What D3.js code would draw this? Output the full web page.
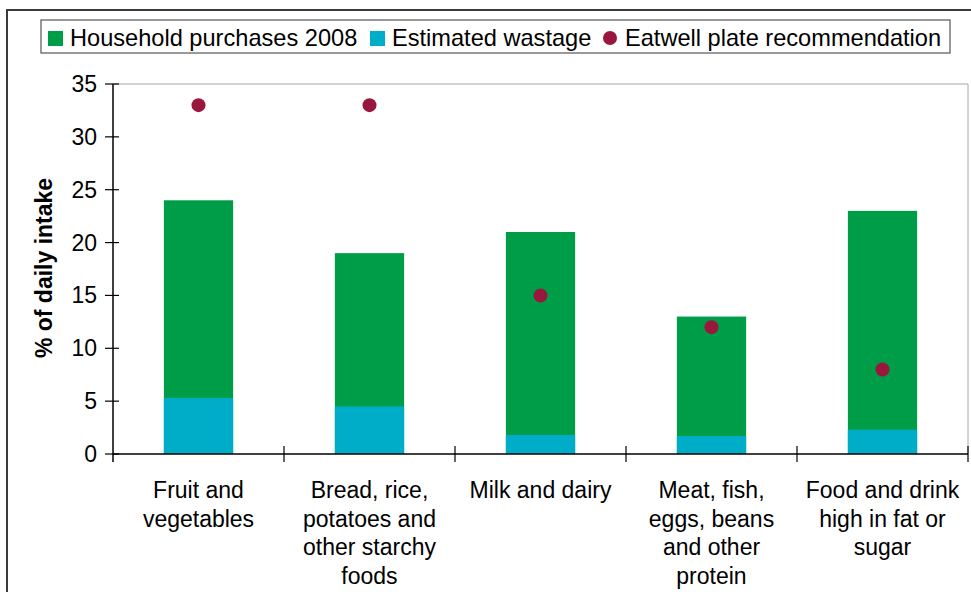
<!DOCTYPE html>
<html>
<head>
<meta charset="utf-8">
<script src="https://cdn.jsdelivr.net/npm/d3@7"></script>
<style>
  html, body { margin: 0; padding: 0; background: #fff; }
  svg { display: block; font-family: "Liberation Sans", Arial, sans-serif; }
</style>
</head>
<body>
<svg id="chart" width="971" height="592"></svg>
<script>
// food groups on the x axis, each label pre-split into lines as in the original
const categories = ['Fruit and vegetables', 'Bread, rice, potatoes and other starchy foods',
    'Milk and dairy', 'Meat, fish, eggs, beans and other protein', 'Food and drink high in fat or sugar'];
const categoryLines = [
    ['Fruit and', 'vegetables'],
    ['Bread, rice,', 'potatoes and', 'other starchy', 'foods'],
    ['Milk and dairy'],
    ['Meat, fish,', 'eggs, beans', 'and other', 'protein'],
    ['Food and drink', 'high in fat or', 'sugar'],
];
const purchases = [24, 19, 21, 13, 23];
const wastage = [5.3, 4.5, 1.8, 1.7, 2.3];
const eatwell = [33, 33, 15, 12, 8];
const yTicks = [0, 5, 10, 15, 20, 25, 30, 35];

const GREEN = '#009d48';
const CYAN = '#00adc8';
const MAROON = '#99173c';
const FONT = 23;
const LEGEND_FONT = 23.6;

const svg = d3.select('#chart');

// outer frame, runs off the right and bottom edges
svg.append('rect')
    .attr('x', 7).attr('y', 10).attr('width', 980).attr('height', 600)
    .attr('fill', 'none').attr('stroke', '#3a3a3a').attr('stroke-width', 2);

// ---- scales ----
const plot = { left: 113, right: 968, top: 84, bottom: 454 };
const x = d3.scaleBand().domain(categories).range([plot.left, plot.right]).padding(0);
const barW = x.bandwidth() * 0.405;
const y = d3.scaleLinear().domain([0, 35]).range([plot.bottom, plot.top]);

// plot area border (top + right, light grey)
svg.append('path')
    .attr('d', `M${plot.left},${plot.top}H${plot.right}V${plot.bottom}`)
    .attr('fill', 'none').attr('stroke', '#a6a6a6').attr('stroke-width', 1);

// ---- bars ----
const gBars = svg.append('g');
gBars.selectAll('rect.purchase').data(categories).join('rect')
    .attr('class', 'purchase')
    .attr('x', (d) => x(d) + (x.bandwidth() - barW) / 2)
    .attr('width', barW)
    .attr('y', (d, i) => y(purchases[i]))
    .attr('height', (d, i) => y(0) - y(purchases[i]))
    .attr('fill', GREEN);
gBars.selectAll('rect.waste').data(categories).join('rect')
    .attr('class', 'waste')
    .attr('x', (d) => x(d) + (x.bandwidth() - barW) / 2)
    .attr('width', barW)
    .attr('y', (d, i) => y(wastage[i]))
    .attr('height', (d, i) => y(0) - y(wastage[i]))
    .attr('fill', CYAN);

// ---- axes (excel style cross ticks) ----
const yAxis = svg.append('g').attr('transform', `translate(${plot.left},0)`);
yAxis.append('line')
    .attr('y1', plot.top).attr('y2', plot.bottom + 8)
    .attr('stroke', '#000').attr('stroke-width', 1.5);
yAxis.selectAll('line.tick').data(yTicks).join('line')
    .attr('class', 'tick')
    .attr('x1', -8).attr('x2', 6)
    .attr('y1', (d) => y(d)).attr('y2', (d) => y(d))
    .attr('stroke', '#000').attr('stroke-width', 1.2);
yAxis.selectAll('text').data(yTicks).join('text')
    .attr('x', -16).attr('y', (d) => y(d))
    .attr('dy', '0.35em')
    .attr('text-anchor', 'end')
    .attr('font-size', FONT).attr('fill', '#000')
    .text((d) => d);

const xAxis = svg.append('g');
xAxis.append('line')
    .attr('x1', plot.left).attr('x2', plot.right)
    .attr('y1', plot.bottom).attr('y2', plot.bottom)
    .attr('stroke', '#000').attr('stroke-width', 1.5);
const edges = categories.map((c) => x(c)).concat([plot.right]);
xAxis.selectAll('line.tick').data(edges.slice(1)).join('line')
    .attr('class', 'tick')
    .attr('x1', (d) => d).attr('x2', (d) => d)
    .attr('y1', plot.bottom - 8).attr('y2', plot.bottom + 8)
    .attr('stroke', '#000').attr('stroke-width', 1.2);

const labels = xAxis.selectAll('text').data(categories).join('text')
    .attr('text-anchor', 'middle')
    .attr('font-size', FONT).attr('fill', '#000');
labels.selectAll('tspan').data((d, i) => categoryLines[i]).join('tspan')
    .attr('x', function () { return x(d3.select(this.parentNode).datum()) + x.bandwidth() / 2; })
    .attr('y', (d, i) => 498 + i * 28.5)
    .text((d) => d);

// ---- eatwell dots ----
svg.append('g').selectAll('circle').data(categories).join('circle')
    .attr('cx', (d) => x(d) + x.bandwidth() / 2)
    .attr('cy', (d, i) => y(eatwell[i]))
    .attr('r', 7)
    .attr('fill', MAROON);

// y axis title
svg.append('text')
    .attr('transform', 'translate(52,268) rotate(-90)')
    .attr('text-anchor', 'middle')
    .attr('font-size', FONT).attr('font-weight', 'bold')
    .text('% of daily intake');

// ---- legend ----
const legend = svg.append('g');
legend.append('rect')
    .attr('x', 41).attr('y', 20).attr('width', 909).attr('height', 33)
    .attr('fill', '#fff').attr('stroke', '#555').attr('stroke-width', 1.2);
const legendItems = [
    { label: 'Household purchases 2008', color: GREEN, shape: 'square', x: 48 },
    { label: 'Estimated wastage', color: CYAN, shape: 'square', x: 370 },
    { label: 'Eatwell plate recommendation', color: MAROON, shape: 'circle', x: 603 },
];
const li = legend.selectAll('g.item').data(legendItems).join('g')
    .attr('class', 'item')
    .attr('transform', (d) => `translate(${d.x},38)`);
li.filter((d) => d.shape === 'square').append('rect')
    .attr('x', 0).attr('y', -7).attr('width', 15).attr('height', 15)
    .attr('fill', (d) => d.color);
li.filter((d) => d.shape === 'circle').append('circle')
    .attr('cx', 7).attr('cy', 0).attr('r', 7)
    .attr('fill', (d) => d.color);
li.append('text')
    .attr('x', 22).attr('dy', '0.35em')
    .attr('font-size', LEGEND_FONT).attr('fill', '#000')
    .text((d) => d.label);
</script>
</body>
</html>
